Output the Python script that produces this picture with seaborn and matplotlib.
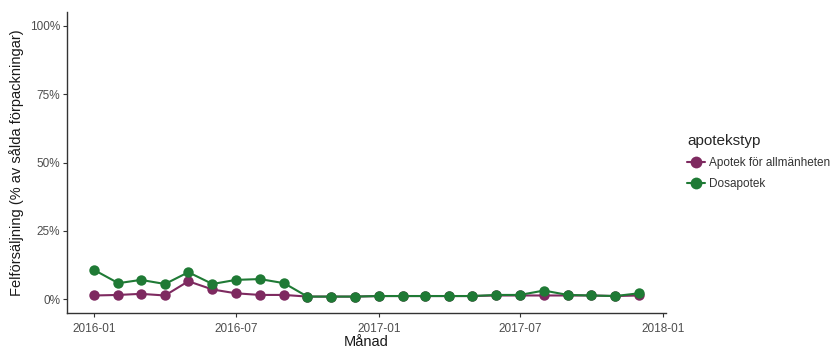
import matplotlib
matplotlib.use("Agg")
import matplotlib.pyplot as plt
import matplotlib.dates as mdates
import pandas as pd
import seaborn as sns

months = pd.date_range("2016-01-01", "2017-12-01", freq="MS")

allmanhet = [1.4, 1.6, 2.0, 1.4, 6.6, 3.6, 2.2, 1.6, 1.6, 1.0, 1.0, 1.0,
             1.2, 1.2, 1.2, 1.2, 1.2, 1.4, 1.4, 1.4, 1.4, 1.4, 1.2, 1.4]
dosapotek = [10.7, 5.9, 7.1, 5.6, 9.9, 5.6, 7.1, 7.4, 5.9, 1.0, 1.0, 1.0,
             1.2, 1.2, 1.2, 1.2, 1.2, 1.6, 1.6, 3.2, 1.6, 1.4, 1.2, 2.2]

type_names = ["Apotek för allmänheten", "Dosapotek"]
type_colors = ["#7e2a60", "#1f7a35"]
y_ticks = [0, 25, 50, 75, 100]
y_tick_labels = ["0%", "25%", "50%", "75%", "100%"]
x_ticks = ["2016-01", "2016-07", "2017-01", "2017-07", "2018-01"]

df = pd.DataFrame({
    "Månad": list(months) * 2,
    "andel": allmanhet + dosapotek,
    "apotekstyp": [type_names[0]] * len(months) + [type_names[1]] * len(months),
})

sns.set_style("white")
plt.rcParams["font.family"] = ["Liberation Sans", "DejaVu Sans"]

fig = plt.figure(figsize=(8.32, 3.48), dpi=100)
ax = fig.add_axes([67 / 832, 35 / 348, 599 / 832, 301 / 348])

sns.lineplot(data=df, x="Månad", y="andel", hue="apotekstyp",
             hue_order=type_names, palette=type_colors,
             marker="o", markersize=7.5, markeredgewidth=0, linewidth=1.5,
             ax=ax)

ax.set_ylim(-5, 105)
ax.set_yticks(y_ticks)
ax.set_yticklabels(y_tick_labels)
tick_dates = pd.to_datetime(x_ticks)
span = months[-1] - months[0]
ax.set_xlim(months[0] - span * 0.05, months[-1] + span * 0.05)
ax.set_xticks(tick_dates)
ax.xaxis.set_major_formatter(mdates.DateFormatter("%Y-%m"))

for side in ["top", "right"]:
    ax.spines[side].set_visible(False)
for side in ["left", "bottom"]:
    ax.spines[side].set_color("#333333")
    ax.spines[side].set_linewidth(1.0)
ax.tick_params(axis="both", which="major", length=3, width=0.8, color="#333333",
               labelsize=8.5, labelcolor="#4d4d4d", direction="out",
               bottom=True, left=True)
ax.tick_params(axis="x", pad=4)
ax.tick_params(axis="y", pad=2)

ax.set_xlabel("Månad", fontsize=10.5, color="#1a1a1a", labelpad=0.5)
ax.set_ylabel("Felförsäljning (% av sålda förpackningar)", fontsize=10.5,
              color="#1a1a1a", labelpad=4)

handles, labels = ax.get_legend_handles_labels()
for h in handles:
    h.set_markersize(8.5)
leg = ax.legend(handles, labels, title="apotekstyp", loc="upper left",
                bbox_to_anchor=(687 / 832, 214 / 348), bbox_transform=fig.transFigure,
                frameon=False, fontsize=8.5, title_fontsize=11,
                handlelength=1.5, handletextpad=0.4, labelspacing=0.75,
                borderaxespad=0, borderpad=0)
leg._legend_box.align = "left"
for t in leg.get_texts():
    t.set_color("#333333")

fig.savefig("out.png", dpi=100, facecolor="white")
